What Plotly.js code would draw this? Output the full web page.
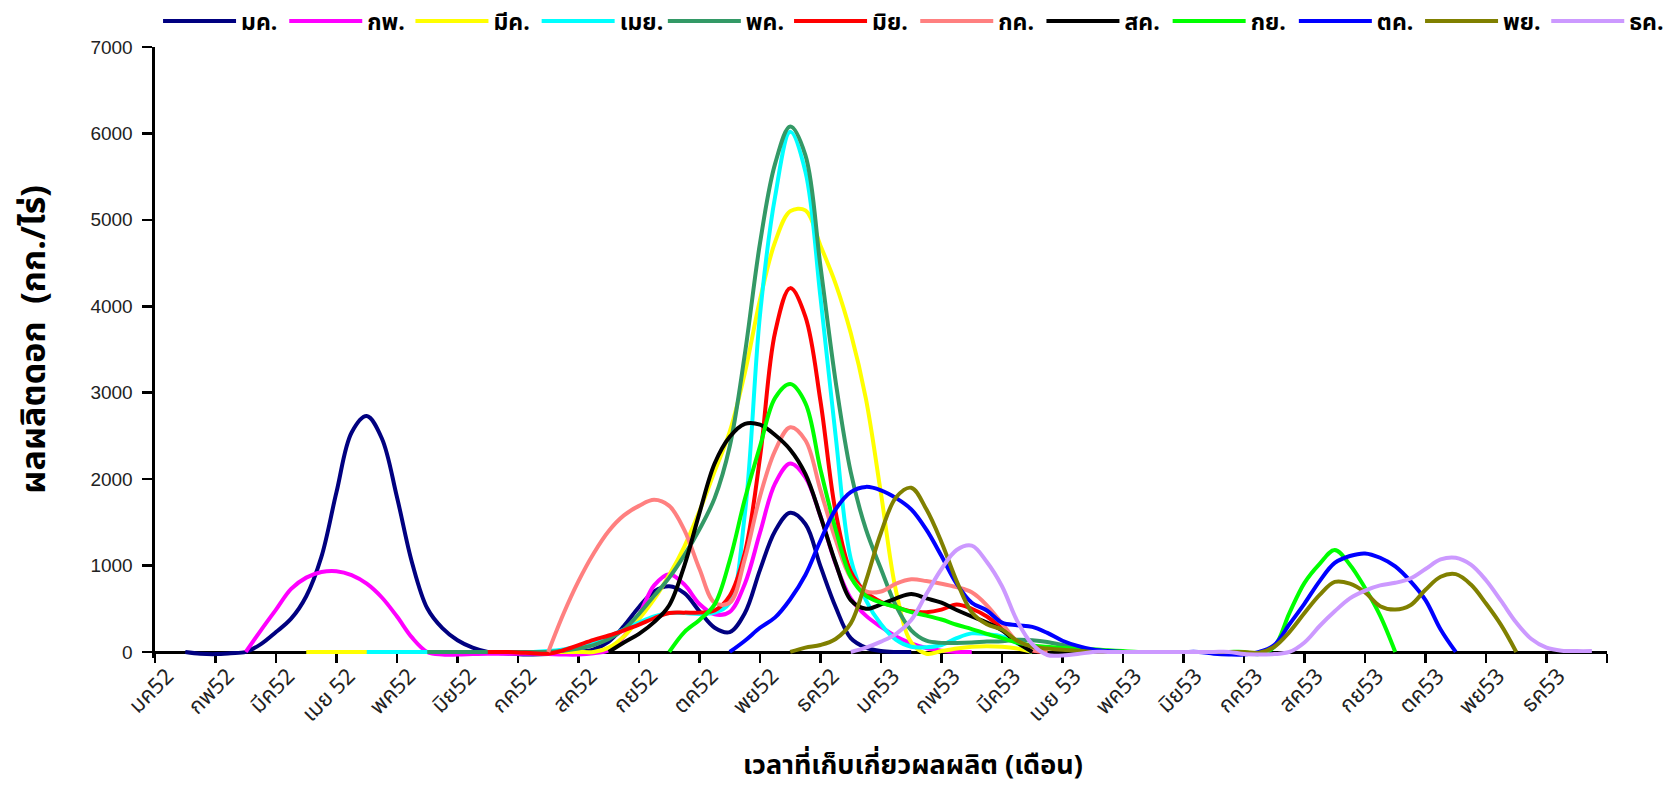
<!DOCTYPE html>
<html>
<head>
<meta charset="utf-8">
<script src="https://cdn.plot.ly/plotly-3.0.1.min.js"></script>
<style>html,body{margin:0;padding:0;background:#fff;}</style>
</head>
<body>
<div id="chart" style="width:1666px;height:787px;"></div>
<script>
// Harvest-month tick labels (x axis)
const monthLabels = ["มค52","กพ52","มีค52","เมย 52","พค52","มิย52","กค52","สค52","กย52","ตค52","พย52","ธค52",
                     "มค53","กพ53","มีค53","เมย 53","พค53","มิย53","กค53","สค53","กย53","ตค53","พย53","ธค53"];
// Series (planting month)
const seriesNames = ["มค.","กพ.","มีค.","เมย.","พค.","มิย.","กค.","สค.","กย.","ตค.","พย.","ธค."];
// First harvest point of each series (in months from มค52) and sampling step (months)
const startMonth = [0.5,1.5,2.5,3.5,4.5,5.5,6.5,7.5,8.5,9.5,10.5,11.5];
const step = 0.25;

// Flower yield (kg/rai), one value per step
const jan = [0,-20,-25,-15,0,90,230,385,645,1100,1850,2540,2730,2470,1790,1030,505,275,135,50,
             0,-15,-25,-30,-25,-10,0,30,120,300,520,700,760,680,470,280,230,450,950,1400,
             1610,1480,990,520,160,50,10,0,0];
const feb = [0,250,490,730,860,925,935,890,790,630,410,165,0,-30,-30,-25,-20,-20,-20,-20,
             -25,-30,-30,-15,20,180,430,770,900,780,555,435,465,790,1380,1950,2180,2020,1570,1020,
             620,420,290,180,100,45,15,0,0];
const mar = [0,0,0,0,0,0,0,0,0,0,0,0,0,0,0,0,0,0,0,0,
             50,180,380,610,890,1220,1630,2090,2550,3230,4075,4745,5100,5110,4700,4260,3690,2930,1830,700,
             110,-20,10,40,60,65,60,40,0];
const apr = [0,0,0,0,0,0,0,0,0,0,0,0,10,30,60,110,180,260,340,410,
             450,450,440,455,570,1600,3900,5270,6020,5560,4100,2500,1080,600,320,140,60,55,80,160,
             215,205,180,100,0];
const may = [0,0,0,0,0,0,0,0,0,15,40,80,150,260,440,650,860,1120,1420,1780,
             2380,3450,4730,5650,6080,5750,4460,3130,2080,1420,960,530,250,130,105,105,110,120,125,140,
             135,115,80,50,20,0];
const jun = [0,0,-5,-15,-20,20,80,140,190,250,315,390,450,455,455,480,650,1150,2250,3700,
             4210,3880,2900,1620,930,690,580,520,470,460,490,550,500,410,270,110,20,0];
const jul = [0,440,820,1140,1400,1580,1690,1760,1690,1410,960,570,570,1080,1800,2330,2600,2450,1870,1300,
             860,700,700,790,840,820,790,750,690,540,330,120,20,0];
const aug = [0,110,210,345,540,1000,1610,2180,2490,2640,2630,2510,2340,2060,1570,1030,600,500,550,620,
             670,620,570,485,410,340,250,110,0];
const sep = [0,230,370,550,1060,1770,2380,2940,3100,2880,2110,1420,870,650,570,520,460,420,375,315,
             265,210,160,110,75,60,45,35,30,20,10,0,0,0,0,0,0,0,0,-25,
             60,450,800,1020,1180,1010,740,420,0];
const oct = [0,130,280,400,610,890,1290,1650,1850,1910,1870,1780,1650,1415,1110,790,570,480,340,310,
             290,220,130,70,30,10,0,0,0,0,0,0,-20,-30,-30,0,80,320,560,820,
             1030,1110,1140,1090,990,820,600,260,0];
const nov = [0,50,80,150,330,820,1380,1790,1900,1650,1270,820,460,320,260,130,60,40,25,15,
             0,0,0,0,0,0,0,0,0,0,0,-10,60,230,450,660,810,790,690,530,
             490,540,720,870,900,780,560,310,0];
const dec = [0,50,120,210,370,670,960,1180,1230,1040,760,360,90,-35,-40,-25,0,0,0,0,
             0,0,0,0,0,0,-25,-30,-25,0,110,300,470,620,710,770,800,850,960,1070,
             1090,1010,830,590,340,150,50,15,10,10];

const seriesValues = [jan,feb,mar,apr,may,jun,jul,aug,sep,oct,nov,dec];
const seriesColors = ["#000080","#FF00FF","#FFFF00","#00FFFF","#339966","#FF0000",
                      "#FF8080","#000000","#00FF00","#0000FF","#808000","#CC99FF"];

const thaiFont = "Tahoma, 'Noto Sans Thai', 'Loma', 'Garuda', 'Norasi', 'DejaVu Sans', sans-serif";

const traces = seriesValues.map((vals, k) => ({
  type: "scatter",
  mode: "lines",
  name: seriesNames[k],
  x: vals.map((_, i) => startMonth[k] + step * i),
  y: vals,
  line: {color: seriesColors[k], width: 4, shape: "spline", smoothing: 1},
  hoverinfo: "skip"
}));

const yMin = -70, yMax = 7000;
const layout = {
  width: 1666, height: 787,
  margin: {l: 155, r: 59, t: 47, b: 128.5, pad: 0, autoexpand: false},
  paper_bgcolor: "#ffffff",
  plot_bgcolor: "#ffffff",
  showlegend: true,
  xaxis: {
    range: [0, 24],
    anchor: "free",
    position: (0 - yMin) / (yMax - yMin),
    showline: true, linecolor: "#000", linewidth: 3.5,
    layer: "below traces",
    showgrid: false, zeroline: false,
    tickmode: "array",
    tickvals: monthLabels.map((_, i) => i + 0.2),
    ticktext: monthLabels,
    ticks: "",
    tickangle: -45,
    tickfont: {family: thaiFont, size: 22, color: "#222"},
    minor: {tickmode: "array", tickvals: monthLabels.map((_, i) => i).concat([24]),
            ticks: "outside", ticklen: 9, tickwidth: 2.5, tickcolor: "#000", showgrid: false}
  },
  yaxis: {
    range: [yMin, yMax],
    showline: true, linecolor: "#000", linewidth: 3.5,
    layer: "below traces",
    showgrid: false, zeroline: false,
    tickmode: "array",
    tickvals: [0,1000,2000,3000,4000,5000,6000,7000],
    ticks: "outside", ticklen: 10, tickwidth: 2.5, tickcolor: "#000",
    ticklabelstandoff: 5,
    tickfont: {family: "'Liberation Sans Narrow', 'Liberation Sans', sans-serif", size: 19, color: "#222"}
  },
  legend: {
    orientation: "h",
    x: -0.001, xanchor: "left",
    y: 1.0425, yanchor: "middle",
    itemwidth: 73,
    indentation: 4.5,
    entrywidth: 33.7,
    font: {family: thaiFont, size: 23, color: "#000", weight: "bold"},
    bgcolor: "rgba(0,0,0,0)",
    tracegroupgap: 0
  },
  annotations: [
    {text: "เวลาที่เก็บเกี่ยวผลผลิต (เดือน)", xref: "paper", yref: "paper",
     x: 0.522, y: 0, yshift: -107, xanchor: "center", yanchor: "middle", showarrow: false,
     font: {family: thaiFont, size: 27, color: "#000", weight: "bold"}},
    {text: "ผลผลิตดอก\u00a0\u00a0(กก./ไร่)", xref: "paper", yref: "paper",
     x: 0, xshift: -120, y: 0.521, xanchor: "center", yanchor: "middle", textangle: -90, showarrow: false,
     font: {family: thaiFont, size: 34, color: "#000", weight: "bold"}}
  ]
};

Plotly.newPlot("chart", traces, layout, {staticPlot: true, displayModeBar: false});
</script>
</body>
</html>
